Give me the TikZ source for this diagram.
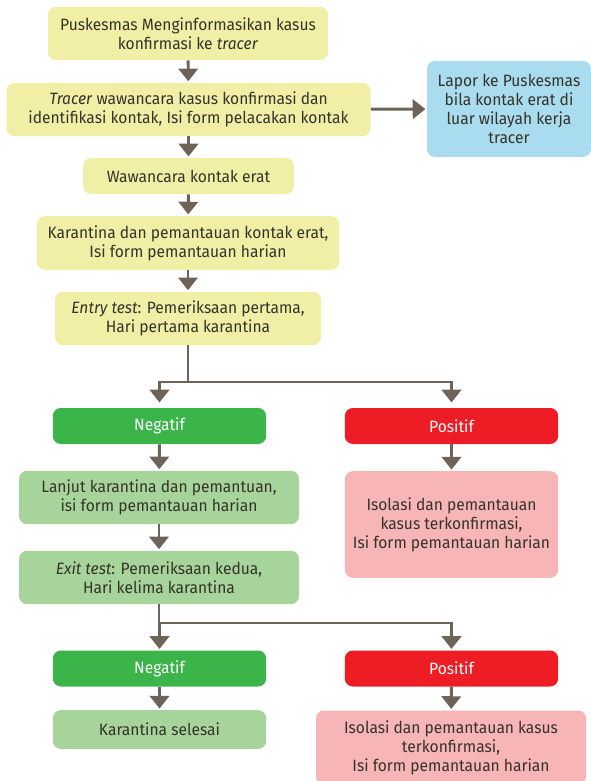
\documentclass[tikz,border=0pt]{standalone}
\usepackage{fontspec}
\setmainfont[FakeStretch=0.95]{Fira Sans}
\usetikzlibrary{arrows.meta}

\definecolor{ink}{HTML}{35332A}
\definecolor{arrowc}{HTML}{6E6358}
\definecolor{yellowbox}{HTML}{F1EFA6}
\definecolor{bluebox}{HTML}{A9DCEE}
\definecolor{greenbox}{HTML}{3BB54A}
\definecolor{lightgreen}{HTML}{A7D49B}
\definecolor{redbox}{HTML}{EE1C25}
\definecolor{pinkbox}{HTML}{F7B5B8}

\tikzset{
  box/.style={rounded corners=6pt, align=center, text=ink, inner sep=0pt,
    font=\fontsize{12.3}{14.2}\selectfont},
  yellow/.style={box, fill=yellowbox},
  blue/.style={box, fill=bluebox},
  lgreen/.style={box, fill=lightgreen},
  pink/.style={box, fill=pinkbox},
  result/.style={box, text=white, minimum width=160pt, minimum height=27pt},
  arr/.style={draw=arrowc, line width=2.2pt,
    -{Triangle[width=14.5pt,length=9.5pt]}, shorten >=1pt},
  link/.style={draw=arrowc, line width=2.2pt}
}

\begin{document}
\begin{tikzpicture}[x=0.75pt,y=-0.75pt]
\useasboundingbox (0,0) rectangle (591,781);
\node[yellow, minimum width=210pt, minimum height=40pt] (inform) at (188,33.5)
  {Puskesmas Menginformasikan kasus\\konfirmasi ke \textit{tracer}};
\node[yellow, minimum width=273pt, minimum height=40pt] (tracer) at (188.5,109.5)
  {\textit{Tracer} wawancara kasus konfirmasi dan\\identifikasi kontak, Isi form pelacakan kontak};
\node[blue, minimum width=123pt, minimum height=72pt] (lapor) at (509,109)
  {Lapor ke Puskesmas\\bila kontak erat di\\luar wilayah kerja\\tracer};
\node[yellow, minimum width=158pt, minimum height=27pt] (wawancara) at (188.5,176)
  {Wawancara kontak erat};
\node[yellow, minimum width=226.5pt, minimum height=40.5pt] (karantina) at (188,243)
  {Karantina dan pemantauan kontak erat,\\Isi form pemantauan harian};
\node[yellow, minimum width=199.5pt, minimum height=40pt] (entry) at (188,318.5)
  {\textit{Entry test}: Pemeriksaan pertama,\\Hari pertama karantina};

\node[result, fill=greenbox] (neg1) at (159.5,426) {Negatif};
\node[result, fill=redbox] (pos1) at (451.5,426) {Positif};
\node[lgreen, minimum width=210pt, minimum height=40pt] (lanjut) at (159,497.5)
  {Lanjut karantina dan pemantuan,\\isi form pemantauan harian};
\node[pink, minimum width=160pt, minimum height=80pt] (isolasi1) at (451.5,524.5)
  {Isolasi dan pemantauan\\kasus terkonfirmasi,\\Isi form pemantauan harian};
\node[lgreen, minimum width=210pt, minimum height=40pt] (exit) at (159,577.5)
  {\textit{Exit test}: Pemeriksaan kedua,\\Hari kelima karantina};

\node[result, fill=greenbox] (neg2) at (159.5,668.5) {Negatif};
\node[result, fill=redbox] (pos2) at (451.5,668.5) {Positif};
\node[lgreen, minimum width=160pt, minimum height=29pt] (selesai) at (159.5,729.5)
  {Karantina selesai};
\node[pink, minimum width=202.5pt, minimum height=55.5pt] (isolasi2) at (451,747.5)
  {Isolasi dan pemantauan kasus\\terkonfirmasi,\\Isi form pemantauan harian};

% connectors
\draw[arr] (inform) -- (tracer);
\draw[arr] (tracer) -- (wawancara);
\draw[arr] (tracer) -- (lapor);
\draw[arr] (wawancara) -- (karantina);
\draw[arr] (karantina) -- (entry);
\coordinate (split1) at (188,382);
\draw[link] (entry) -- (split1);
\draw[arr, shorten >=4pt] (split1) -| (neg1);
\draw[arr, shorten >=4pt] (split1) -| (pos1);
\draw[arr] (neg1) -- (lanjut);
\draw[arr] (pos1) -- (isolasi1);
\draw[arr] (lanjut) -- (exit);
\coordinate (split2) at (159,623);
\draw[link] (exit) -- (split2);
\draw[arr] (split2) -| (neg2);
\draw[arr] (split2) -| (pos2);
\draw[arr] (neg2) -- (selesai);
\draw[arr] (pos2) -- (isolasi2);
\end{tikzpicture}
\end{document}
